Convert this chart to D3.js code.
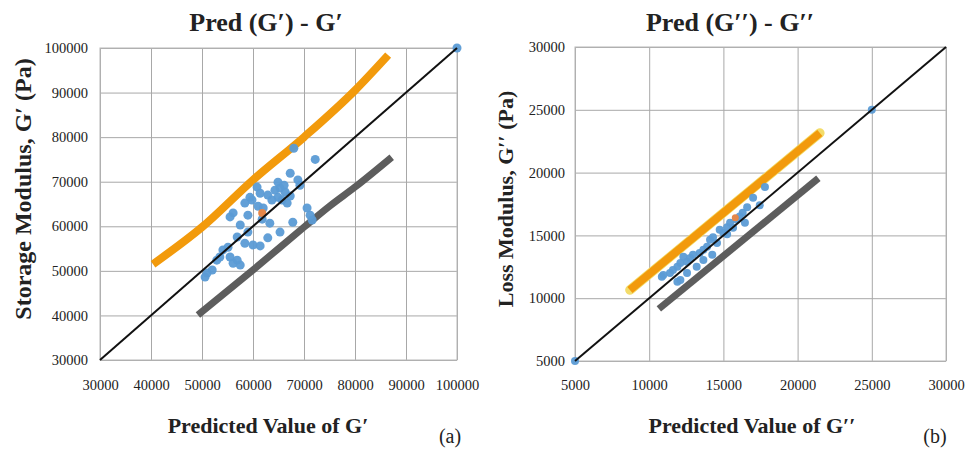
<!DOCTYPE html>
<html>
<head>
<meta charset="utf-8">
<script src="https://cdn.jsdelivr.net/npm/d3@7"></script>
<style>
    body { margin: 0; background: #fff; }
    svg { display: block; font-family: "Liberation Serif", "Times New Roman", serif; }
    svg text { font-family: "Liberation Serif", "Times New Roman", serif; }
</style>
</head>
<body>
<svg id="chart" width="966" height="449"></svg>
<script>
// ---- (a) storage modulus G' ----
const gpTicks = [30000, 40000, 50000, 60000, 70000, 80000, 90000, 100000]
const gpPredicted = [68000, 72200, 67300, 68800, 60800, 61400, 59400, 58400, 59800, 64300,
                     65300, 66300, 64900, 65700, 66700, 63700, 62900, 67300, 62000, 70600,
                     56100, 55500, 57500, 63300, 67800, 71600, 65300, 62900, 56900, 58400,
                     60000, 61400, 54100, 53500, 52900, 55500, 56900, 56100, 57500, 51000,
                     50600, 52000, 55100, 59000, 61800, 61000, 69200, 64900, 66100, 71200,
                     59000, 100000]
const gpMeasured = [77500, 75000, 71900, 70400, 68800, 67400, 66500, 65200, 65900, 68100,
                    68600, 67700, 66500, 65900, 65200, 65900, 67000, 66800, 64100, 64100,
                    63000, 62100, 60300, 60700, 60900, 61400, 58700, 57400, 57600, 56200,
                    55800, 55600, 54700, 53100, 52400, 53100, 52400, 51700, 51300, 49500,
                    48600, 50200, 55300, 58700, 61600, 64500, 69200, 69900, 69200, 62500,
                    62500, 100000]
const gpMean = [61800, 63000]
const gpUpper = [[40400, 51500], [50000, 59800], [60000, 70400], [70000, 80000], [80000, 90500], [86500, 98400]]
const gpLower = [[49200, 40100], [60000, 50200], [70000, 59800], [75000, 64500], [80000, 68800], [87200, 75500]]

// ---- (b) loss modulus G'' ----
const gppTicks = [5000, 10000, 15000, 20000, 25000, 30000]
const gppPredicted = [17800, 17000, 16300, 16100, 15450, 15250, 15650, 14750, 15000, 14300,
                      14100, 14570, 13900, 13650, 13400, 12950, 12750, 12550, 12300, 12100,
                      11900, 11600, 11400, 10950, 10850, 11900, 12550, 13200, 13650, 14250,
                      12100, 16450, 15250, 16600, 15900, 17450, 5000, 25000]
const gppMeasured = [18850, 18000, 16800, 16500, 16000, 15650, 15600, 15450, 15200, 14850,
                     14650, 14400, 14100, 13850, 13600, 13450, 13200, 12900, 13300, 12800,
                     12500, 12250, 12000, 11850, 11700, 11300, 12000, 12500, 13050, 13450,
                     11450, 16000, 15100, 17250, 16250, 17400, 5000, 25000]
const gppMean = [15800, 16400]
const gppUpper = [[8700, 10650], [21500, 23150]]
const gppLower = [[10650, 9150], [21400, 19550]]

const svg = d3.select("#chart")

drawPanel = function (p) {
    let x = d3.scaleLinear().domain(d3.extent(p.ticks)).range([p.left, p.right])
    let y = d3.scaleLinear().domain(d3.extent(p.ticks)).range([p.bottom, p.top])
    let g = svg.append("g")

    // grid
    g.append("g")
     .attr("transform", "translate(0," + p.bottom + ")")
     .call(d3.axisBottom(x).tickValues(p.ticks).tickSize(p.top - p.bottom).tickFormat(""))
     .call(a => a.select(".domain").remove())
     .selectAll("line").attr("stroke", "#a8a8a8")
    g.append("g")
     .attr("transform", "translate(" + p.left + ",0)")
     .call(d3.axisLeft(y).tickValues(p.ticks).tickSize(p.left - p.right).tickFormat(""))
     .call(a => a.select(".domain").remove())
     .selectAll("line").attr("stroke", "#a8a8a8")
    g.append("rect")
     .attr("x", p.left).attr("y", p.top)
     .attr("width", p.right - p.left).attr("height", p.bottom - p.top)
     .attr("fill", "none").attr("stroke", "#b8b8b8")

    // tick labels
    g.append("g")
     .attr("transform", "translate(0," + p.bottom + ")")
     .call(d3.axisBottom(x).tickValues(p.ticks).tickSize(0).tickPadding(p.padX).tickFormat(d3.format("d")))
     .call(a => a.select(".domain").remove())
     .selectAll("text")
     .style("font-family", "'Liberation Serif', serif").style("font-size", "14.5px")
     .attr("fill", "#222")
    g.append("g")
     .attr("transform", "translate(" + p.left + ",0)")
     .call(d3.axisLeft(y).tickValues(p.ticks).tickSize(0).tickPadding(p.padY).tickFormat(d3.format("d")))
     .call(a => a.select(".domain").remove())
     .selectAll("text")
     .style("font-family", "'Liberation Serif', serif").style("font-size", "14.5px")
     .attr("fill", "#222")

    let line = d3.line().x(d => x(d[0])).y(d => y(d[1])).curve(d3.curveMonotoneX)

    // upper & lower bounds
    if (p.halo) {
        g.append("path").datum(p.upper).attr("d", line)
         .attr("fill", "none").attr("stroke", "#f3dc6a").attr("stroke-width", 9.5).attr("stroke-linecap", "round")
    }
    g.append("path").datum(p.upper).attr("d", line)
     .attr("fill", "none").attr("stroke", "#f29a0c").attr("stroke-width", 8).attr("stroke-linecap", "butt")
    g.append("path").datum(p.lower).attr("d", line)
     .attr("fill", "none").attr("stroke", "#5d5d5d").attr("stroke-width", 7).attr("stroke-linecap", "butt")

    // points
    g.append("g").selectAll("circle")
     .data(p.pred.map((v, i) => [v, p.meas[i]]))
     .enter()
     .append("circle")
     .attr("cx", d => x(d[0]))
     .attr("cy", d => y(d[1]))
     .attr("r", p.r)
     .attr("fill", "#5b9bd5")
     .attr("opacity", 0.95)
    g.append("circle")
     .attr("cx", x(p.mean[0])).attr("cy", y(p.mean[1])).attr("r", p.r - 0.5)
     .attr("fill", "#e4874a")

    // y = x
    g.append("line")
     .attr("x1", x(p.ticks[0])).attr("y1", y(p.ticks[0]))
     .attr("x2", x(p.ticks[p.ticks.length - 1])).attr("y2", y(p.ticks[p.ticks.length - 1]))
     .attr("stroke", "#111").attr("stroke-width", 2)

    // texts
    g.append("text")
     .attr("x", p.titleX).attr("y", 31)
     .attr("text-anchor", "middle").attr("font-weight", "bold").attr("font-size", 26)
     .attr("fill", "#222")
     .text(p.title)
    g.append("text")
     .attr("x", p.xLabelX).attr("y", 433)
     .attr("text-anchor", "middle").attr("font-weight", "bold").attr("font-size", 22)
     .attr("fill", "#222")
     .text(p.xLabel)
    g.append("text")
     .attr("transform", "translate(" + p.yLabelX + "," + p.yLabelY + ") rotate(-90)")
     .attr("text-anchor", "middle").attr("font-weight", "bold").attr("font-size", p.yLabelSize)
     .attr("fill", "#222")
     .text(p.yLabel)
    g.append("text")
     .attr("x", p.tagX).attr("y", 443)
     .attr("text-anchor", "middle").attr("font-size", 20)
     .attr("fill", "#222")
     .text(p.tag)
}

drawPanel({
    ticks: gpTicks, pred: gpPredicted, meas: gpMeasured, mean: gpMean,
    upper: gpUpper, lower: gpLower, halo: false, r: 4.5,
    left: 100, right: 457, top: 48, bottom: 360, padX: 20, padY: 12,
    title: "Pred (G\u2032) - G\u2032", titleX: 266,
    xLabel: "Predicted Value of G\u2032", xLabelX: 268,
    yLabel: "Storage Modulus, G\u2032 (Pa)", yLabelX: 31, yLabelY: 189, yLabelSize: 24,
    tag: "(a)", tagX: 450
})

drawPanel({
    ticks: gppTicks, pred: gppPredicted, meas: gppMeasured, mean: gppMean,
    upper: gppUpper, lower: gppLower, halo: true, r: 4,
    left: 575, right: 946, top: 47, bottom: 361, padX: 19, padY: 10,
    title: "Pred (G\u2032\u2032) - G\u2032\u2032", titleX: 730,
    xLabel: "Predicted Value of G\u2032\u2032", xLabelX: 752,
    yLabel: "Loss Modulus, G\u2032\u2032 (Pa)", yLabelX: 513, yLabelY: 199, yLabelSize: 22,
    tag: "(b)", tagX: 935
})
</script>
</body>
</html>
